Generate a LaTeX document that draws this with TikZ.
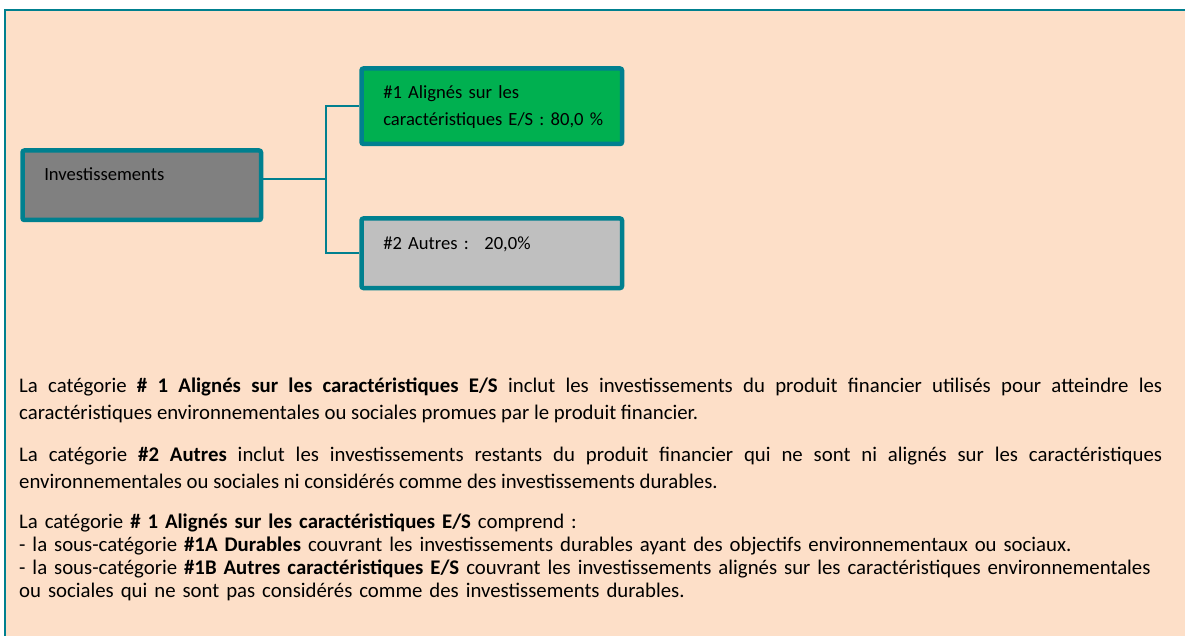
\documentclass[tikz,border=0pt]{standalone}
\usepackage{fontspec}
\setmainfont{Carlito}
\usepackage{tikz}
\usetikzlibrary{positioning,calc}
\usepackage{xcolor}
\definecolor{Teal}{HTML}{00808F}
\definecolor{Peach}{HTML}{FDDFC8}
\definecolor{CatGreen}{HTML}{00B050}
\definecolor{DarkGrey}{HTML}{808080}
\definecolor{LightGrey}{HTML}{BFBFBF}
\tikzset{
  catbox/.style={draw=Teal, line width=4.5pt, rounded corners=2pt, fill=#1,
    anchor=north west, inner xsep=21.75pt, inner ysep=0pt, align=left,
    font=\fontsize{18.6pt}{27pt}\selectfont},
  catbox/.default={white},
  linkline/.style={draw=Teal, line width=1.5pt},
  notetext/.style={anchor=base west, inner sep=0pt, text width=1143pt, align=justify,
    font=\fontsize{20.8pt}{27pt}\selectfont},
}

\begin{document}
\begin{tikzpicture}[x=1pt, y=-1pt]
  \useasboundingbox (0,0) rectangle (1185,636);
  \draw[Teal, line width=2pt, fill=Peach] (5,10) rectangle (1200,650);
  % category tree
  \node[catbox=DarkGrey, text width=195pt, text height=29.75pt, text depth=39.75pt]
    (inv) at (20.25,148.25) {Investissements};
  \node[catbox=CatGreen, text width=217pt, text height=29.75pt, text depth=45.75pt]
    (cat1) at (359.25,66.25) {\#1 Alignés sur les\\\mbox{caractéristiques E/S : 80,0 \%}};
  \node[catbox=LightGrey, text width=217pt, text height=30.75pt, text depth=38.75pt]
    (cat2) at (359.25,216.25) {\#2 Autres :~ 20,0\%};
  \coordinate (fork) at (326,179);
  \draw[linkline] (inv.east |- fork) -- (fork);
  \draw[linkline] (cat1.west) -| (fork) |- (cat2.west);
  % explanations
  \node[notetext] (note1) at (19,392)
    {La catégorie \textbf{\# 1 Alignés sur les caractéristiques E/S} inclut les investissements du produit financier utilisés pour atteindre les\linebreak
     caractéristiques environnementales ou sociales promues par le produit financier.};
  \node[notetext] (note2) at (19,461)
    {La catégorie \textbf{\#2 Autres} inclut les investissements restants du produit financier qui ne sont ni alignés sur les caractéristiques\linebreak
     environnementales ou sociales ni considérés comme des investissements durables.};
  \node[notetext, align=left, font=\fontsize{20.8pt}{23pt}\selectfont] (note3) at (19,528)
    {La catégorie \textbf{\# 1 Alignés sur les caractéristiques E/S} comprend :\\
     - la sous-catégorie \textbf{\#1A Durables} couvrant les investissements durables ayant des objectifs environnementaux ou sociaux.\\
     - la sous-catégorie \textbf{\#1B Autres caractéristiques E/S} couvrant les investissements alignés sur les caractéristiques environnementales\\
     ou sociales qui ne sont pas considérés comme des investissements durables.};
\end{tikzpicture}
\end{document}
